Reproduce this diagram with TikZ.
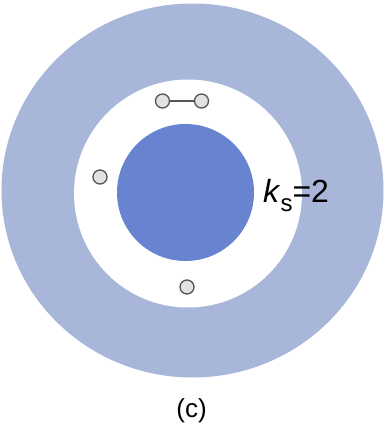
\documentclass[tikz,border=0pt]{standalone}
\usepackage{fontspec}
\setmainfont{Liberation Sans}
\definecolor{ringblue}{RGB}{168,182,217}
\definecolor{coreblue}{RGB}{104,132,208}
\definecolor{beadfill}{RGB}{226,226,226}
\definecolor{beadedge}{RGB}{85,85,85}
\begin{document}
\begin{tikzpicture}[x=1pt,y=-1pt,
  bead/.style={circle,draw=beadedge,fill=beadfill,line width=1.3pt,minimum size=14pt,inner sep=0pt}]
\useasboundingbox (0,0) rectangle (385,434);
\fill[white] (0,0) rectangle (385,434);
\fill[ringblue] (192.5,190.5) ellipse [x radius=191, y radius=187];
\fill[white] (188,193.5) circle (114);
\fill[coreblue] (185.5,192.5) circle (68.5);
\node[bead] (b1) at (162.5,101) {};
\node[bead] (b2) at (201.5,101) {};
\draw[beadedge,line width=1.3pt] (b1) -- (b2);
\node[bead] (b3) at (100,177) {};
\node[bead] (b4) at (187,287) {};
\node[anchor=base west,font=\fontsize{32}{34}\selectfont,inner sep=0pt] (ks) at (263,202) {\textit{k}\raisebox{-9pt}{\fontsize{24}{26}\selectfont s}=2};
\node[font=\fontsize{26}{28}\selectfont,inner sep=0pt] (cap) at (191.5,411) {(c)};
\end{tikzpicture}
\end{document}
